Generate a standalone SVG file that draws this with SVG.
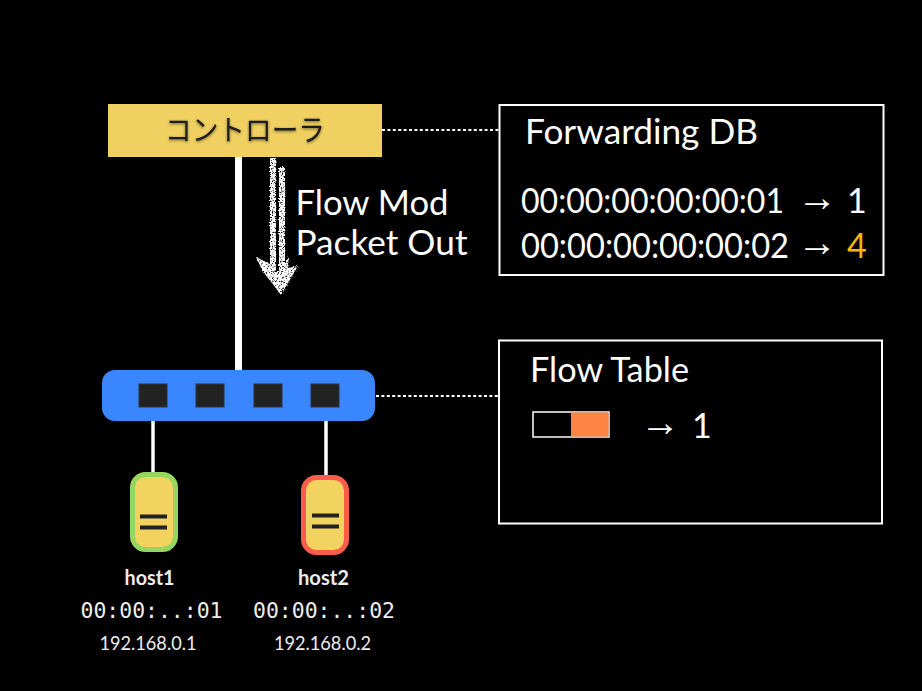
<svg xmlns="http://www.w3.org/2000/svg" width="922" height="691" viewBox="0 0 922 691">
<style>
.t{font-family:"Lato","Noto Sans","Liberation Sans",sans-serif;fill:#fff}
.big{font-size:34px}
.mac{font-size:34px}
.arr{font-family:"Liberation Sans","DejaVu Sans",sans-serif;font-size:40px;fill:#fff}
.h{font-size:20px;font-weight:700;fill:#eee}
.ip{font-size:20px;fill:#eee}
.m{font-family:"DejaVu Sans Mono",monospace;font-size:21px;fill:#eee}
.box{fill:none;stroke:#fff;stroke-width:2}
.dash{stroke:#fff;stroke-width:2;stroke-dasharray:3 2.4;fill:none}
.port{fill:#222;stroke:#333;stroke-width:1}
.link{stroke:#fff;fill:none}
.bar{fill:#222}
.body{fill:#f2d35f}
</style>
<defs>
<filter id="chalk" x="-30%" y="-10%" width="160%" height="120%">
<feTurbulence type="fractalNoise" baseFrequency="0.8" numOctaves="2" seed="4" result="n"/>
<feDisplacementMap in="SourceGraphic" in2="n" scale="4" result="d"/>
<feColorMatrix in="n" type="matrix" values="0 0 0 0 0 0 0 0 0 0 0 0 0 0 0 0 0 0 5 -1.300" result="a"/>
<feComposite in="d" in2="a" operator="in"/>
</filter>
<filter id="shadow" x="-10%" y="-30%" width="120%" height="160%">
<feDropShadow dx="0" dy="1" stdDeviation="1.500" flood-color="#000" flood-opacity="0.55"/>
</filter>
</defs>
<rect width="922" height="691" fill="#000"/>
<g id="connectors">
<line class="link" x1="238.500" y1="157" x2="238.500" y2="370" stroke-width="7"/>
<line class="link" x1="153" y1="407" x2="153" y2="473" stroke-width="3.500"/>
<line class="link" x1="326" y1="407" x2="326" y2="476" stroke-width="3.500"/>
<line class="dash" x1="382" y1="130" x2="499" y2="130"/>
<line class="dash" x1="376" y1="396" x2="498" y2="396"/>
<g id="flow-arrow" filter="url(#chalk)" fill="#fff">
<rect x="270" y="158" width="6" height="112"/>
<rect x="279" y="167" width="6" height="104"/>
<path d="M256 257 L270 264 L276 272 L279 272 L289 257 L288 268 L298 266 L281 295 L272 283 L263 272 Z"/>
</g>
</g>
<g id="controller">
<rect x="108" y="104" width="274" height="53" fill="#f0d060"/>
<text x="245" y="141" text-anchor="middle" font-family="'Noto Sans CJK JP',sans-serif" font-size="29" fill="#1a1a1a" textLength="160" lengthAdjust="spacingAndGlyphs" filter="url(#shadow)">コントローラ</text>
</g>
<g id="flow-label">
<text class="t big" x="295.500" y="215" textLength="153" lengthAdjust="spacingAndGlyphs">Flow Mod</text>
<text class="t big" x="295.500" y="255" textLength="172" lengthAdjust="spacingAndGlyphs">Packet Out</text>
</g>
<g id="forwarding-db">
<rect class="box" x="499.500" y="105" width="384" height="170"/>
<text class="t big" x="525" y="143.500" textLength="233" lengthAdjust="spacingAndGlyphs">Forwarding DB</text>
<text class="t mac" x="521" y="213" textLength="263" lengthAdjust="spacingAndGlyphs">00:00:00:00:00:01</text>
<text class="arr" x="797" y="210.500">→</text>
<text class="t mac" x="847" y="213">1</text>
<text class="t mac" x="521" y="258" textLength="268" lengthAdjust="spacingAndGlyphs">00:00:00:00:00:02</text>
<text class="arr" x="797" y="256">→</text>
<text class="t mac" x="847" y="258" style="fill:#f5b800">4</text>
</g>
<g id="switch">
<rect x="102" y="370" width="273" height="51" rx="13" fill="#3a86ff"/>
<rect class="port" x="139" y="384" width="28" height="23"/>
<rect class="port" x="196" y="384" width="28" height="23"/>
<rect class="port" x="254" y="384" width="28" height="23"/>
<rect class="port" x="311" y="384" width="28" height="23"/>
</g>
<g id="flow-table">
<rect class="box" x="499" y="340.500" width="383" height="183"/>
<text class="t big" x="530" y="381.500" textLength="159" lengthAdjust="spacingAndGlyphs">Flow Table</text>
<rect x="533" y="412" width="76" height="25" fill="#000" stroke="#fff" stroke-width="1.500"/>
<rect x="571" y="412.500" width="37.500" height="24" fill="#ff8545"/>
<text class="arr" x="640" y="436">→</text>
<text class="t mac" x="692" y="438">1</text>
</g>
<g id="host1">
<rect x="132.500" y="474.500" width="43" height="75" rx="13" class="body" stroke="#95d65f" stroke-width="5"/>
<rect class="bar" x="140" y="514.500" width="27" height="4"/>
<rect class="bar" x="140" y="525.500" width="27" height="4"/>
<text class="t h" x="149.500" y="585" text-anchor="middle" textLength="50" lengthAdjust="spacingAndGlyphs">host1</text>
<text class="m" x="151.500" y="618" text-anchor="middle" textLength="142" lengthAdjust="spacingAndGlyphs">00:00:..:01</text>
<text class="t ip" x="148" y="650" text-anchor="middle" textLength="97" lengthAdjust="spacingAndGlyphs">192.168.0.1</text>
</g>
<g id="host2">
<rect x="303.500" y="477.500" width="43" height="75" rx="13" class="body" stroke="#fb5c4c" stroke-width="5"/>
<rect class="bar" x="312" y="513.500" width="27" height="4"/>
<rect class="bar" x="312" y="524.500" width="27" height="4"/>
<text class="t h" x="323.500" y="585" text-anchor="middle" textLength="51" lengthAdjust="spacingAndGlyphs">host2</text>
<text class="m" x="324" y="618" text-anchor="middle" textLength="142" lengthAdjust="spacingAndGlyphs">00:00:..:02</text>
<text class="t ip" x="322.500" y="650" text-anchor="middle" textLength="97" lengthAdjust="spacingAndGlyphs">192.168.0.2</text>
</g>
</svg>
